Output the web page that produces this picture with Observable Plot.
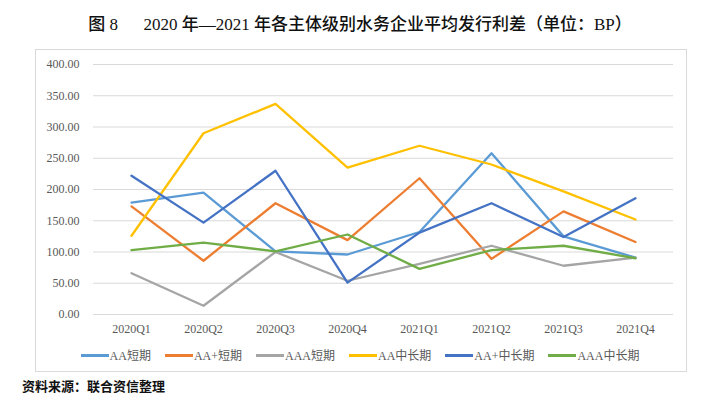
<!DOCTYPE html>
<html><head><meta charset="utf-8">
<script src="https://cdn.jsdelivr.net/npm/d3@7"></script>
<script src="https://cdn.jsdelivr.net/npm/@observablehq/plot@0.6"></script>
<style>
body{margin:0;background:#fff;width:720px;height:401px;position:relative;overflow:hidden;font-family:"Liberation Serif","Noto Sans CJK SC",serif;}
#title{position:absolute;left:0;top:10px;width:720px;text-align:center;font-size:17px;font-weight:500;color:#111;white-space:pre;}
#frame{position:absolute;left:35px;top:49px;width:652px;height:323px;border:1px solid #d9d9d9;box-sizing:border-box;}
#chart{position:absolute;left:36px;top:49px;}
#legend{position:absolute;left:0;top:346px;width:734px;display:flex;justify-content:center;font-size:12px;color:#595959;}
.li{display:flex;align-items:center;margin-right:14px;}
.sw{width:28px;height:3px;margin-right:1px;}
#source{position:absolute;left:22px;top:376px;font-size:13px;font-weight:bold;color:#111;font-family:"Noto Sans CJK SC",sans-serif;}
</style></head>
<body>
<div id="title">图 8      2020 年—2021 年各主体级别水务企业平均发行利差（单位：BP）</div>
<div id="frame"></div>
<div id="chart"></div>
<div id="legend"></div>
<div id="source">资料来源：联合资信整理</div>
<script>
const quarters = ["2020Q1","2020Q2","2020Q3","2020Q4","2021Q1","2021Q2","2021Q3","2021Q4"];
const seriesNames = ["AA短期","AA+短期","AAA短期","AA中长期","AA+中长期","AAA中长期"];
const seriesColors = ["#5B9BD5","#ED7D31","#A5A5A5","#FFC000","#4472C4","#70AD47"];
const aaShort      = [179, 195, 101, 96, 132, 258, 125, 91];
const aaPlusShort  = [173, 86, 178, 119, 218, 89, 165, 116];
const aaaShort     = [66, 14, 100, 54, 81, 110, 78, 91];
const aaLong       = [126, 290, 337, 235, 270, 240, 197, 152];
const aaPlusLong   = [222, 147, 230, 51, 131, 178, 124, 186];
const aaaLong      = [103, 115, 101, 128, 73, 103, 110, 90];
const yTicks = [0,50,100,150,200,250,300,350,400];

const allSeries = [aaShort, aaPlusShort, aaaShort, aaLong, aaPlusLong, aaaLong];
const rows = [];
allSeries.forEach((vals, si) => vals.forEach((v, qi) => rows.push({series: seriesNames[si], q: quarters[qi], v})));

const chart = Plot.plot({
  width: 652, height: 290,
  marginLeft: 57, marginRight: 15, marginTop: 15, marginBottom: 25,
  style: {fontFamily: '"Liberation Serif","Noto Sans CJK SC",serif', fontSize: "12px", color: "#595959", background: "transparent"},
  x: {type: "point", domain: quarters, padding: 0.5, label: null},
  y: {domain: [0, 400], ticks: yTicks, label: null},
  color: {domain: seriesNames, range: seriesColors},
  marks: [
    Plot.gridY(yTicks, {stroke: "#d9d9d9", strokeOpacity: 1, strokeWidth: 1}),
    Plot.axisY(yTicks, {tickSize: 0, tickPadding: 14, tickFormat: d => d.toFixed(2), label: null, fill: "#595959"}),
    Plot.axisX({tickSize: 0, tickPadding: 10, label: null, fill: "#595959"}),
    Plot.line(rows, {x: "q", y: "v", z: "series", stroke: "series", strokeWidth: 2.3})
  ]
});
document.getElementById("chart").appendChild(chart);

const leg = document.getElementById("legend");
seriesNames.forEach((n, i) => {
  const d = document.createElement("div"); d.className = "li";
  const s = document.createElement("div"); s.className = "sw"; s.style.background = seriesColors[i];
  const t = document.createElement("span"); t.textContent = n;
  d.appendChild(s); d.appendChild(t); leg.appendChild(d);
});
</script>
</body></html>
